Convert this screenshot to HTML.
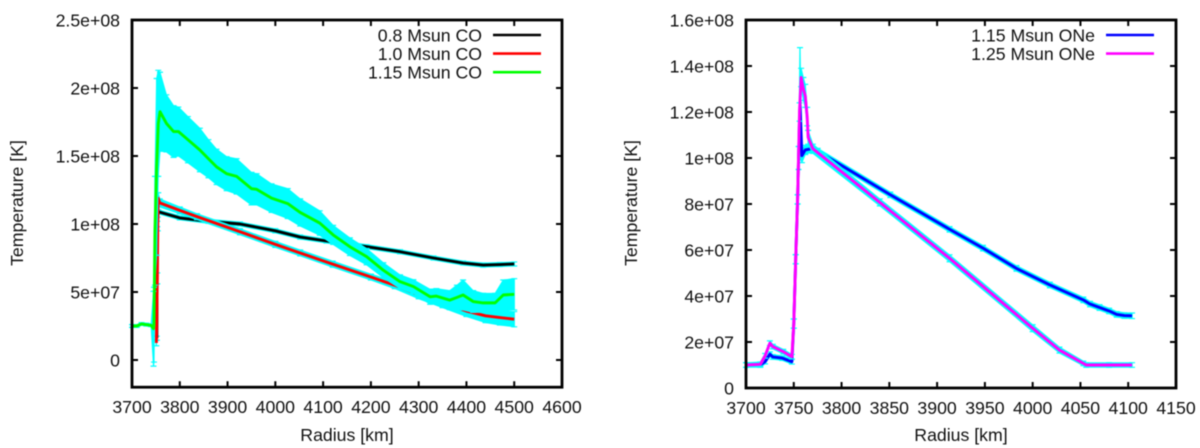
<!DOCTYPE html>
<html lang="en">
<head>
<meta charset="utf-8">
<title>Temperature vs Radius</title>
<style>
html,body{margin:0;padding:0;background:#fff;width:1200px;height:448px;overflow:hidden}
svg{display:block;filter:blur(0.55px)}
text{font-family:"Liberation Sans",sans-serif;font-size:17.7px;fill:#111}
</style>
</head>
<body>
<svg id="figure" width="1200" height="448" viewBox="0 0 1200 448" xmlns="http://www.w3.org/2000/svg">
  <g id="left-chart"></g>
  <g id="right-chart"></g>
</svg>
<script>
const leftXTicks = [3700,3800,3900,4000,4100,4200,4300,4400,4500,4600];
const leftYTicks = [0,5e7,1e8,1.5e8,2e8,2.5e8];
const leftYTickLabels = ['0','5e+07','1e+08','1.5e+08','2e+08','2.5e+08'];
const rightXTicks = [3700,3750,3800,3850,3900,3950,4000,4050,4100,4150];
const rightYTicks = [0,2e7,4e7,6e7,8e7,1e8,1.2e8,1.4e8,1.6e8];
const rightYTickLabels = ['0','2e+07','4e+07','6e+07','8e+07','1e+08','1.2e+08','1.4e+08','1.6e+08'];

const co08Radius = [3752,3753,3755,3800,3860,3926,4000,4052,4107,4191,4261,4331,4393,4435,4470,4500];
const co08Temp = [1.6e7,1.0e8,1.09e8,1.045e8,1.02e8,1.0e8,9.5e7,9.04e7,8.75e7,8.33e7,7.96e7,7.5e7,7.13e7,6.98e7,7.02e7,7.06e7];
const co08Err = [1.5e6,2e6,1.5e6,1.5e6,1.5e6,1.5e6,1.5e6,1.5e6,1.5e6,1.5e6,1.5e6,1.5e6,1.5e6,1.5e6,1.5e6,1.5e6];

const co10Radius = [3751,3753,3754,3755,3758,3800,3836,3926,4000,4052,4120,4200,4250,4300,4350,4400,4440,4470,4500];
const co10Temp = [1.25e7,6e7,1.0e8,1.19e8,1.155e8,1.10e8,1.054e8,9.43e7,8.5e7,7.87e7,7.05e7,6.1e7,5.5e7,4.8e7,4.2e7,3.6e7,3.25e7,3.12e7,3.0e7];
const co10Err = [2e6,4e6,5e6,4e6,3e6,2.5e6,2.2e6,2.2e6,2.2e6,2.2e6,2.2e6,2.2e6,2.5e6,3e6,3.5e6,4e6,5e6,5.5e6,5.6e6];

const co115Radius = [3700,3710,3720,3730,3740,3745,3746,3748,3751.5,3755,3758.6,3772,3787,3797,3817,3842,3860,3877,3898,3919,3950,3961,3992,4026,4052,4093,4121,4156,4191,4226,4261,4289,4324,4337,4365,4380,4393,4414,4435,4460,4477,4500];
const co115Temp = [2.5e7,2.5e7,2.65e7,2.6e7,2.55e7,2.3e7,2.6e7,9.5e7,1.42e8,1.74e8,1.826e8,1.74e8,1.68e8,1.68e8,1.62e8,1.544e8,1.48e8,1.42e8,1.37e8,1.35e8,1.26e8,1.255e8,1.19e8,1.15e8,1.085e8,1.007e8,9.2e7,8.33e7,7.6e7,6.6e7,5.76e7,5.4e7,4.65e7,4.7e7,4.4e7,4.6e7,4.78e7,4.3e7,4.2e7,4.2e7,4.78e7,4.83e7];
const co115Err = [1e6,1e6,1e6,1e6,1e6,2.75e7,2.75e7,4e7,6.5e7,3.9e7,2.9e7,2.1e7,1.9e7,1.8e7,1.7e7,1.6e7,1.4e7,1.3e7,1.25e7,1.3e7,1.2e7,1.15e7,1.05e7,1.1e7,1e7,9e6,7e6,6.5e6,6e6,5.5e6,5e6,5e6,5.5e6,5.5e6,7e6,9e6,1.1e7,8e6,7e6,7e6,1.1e7,1.15e7];

const one115Radius = [3700,3715,3720,3725,3728,3738,3748,3750,3752,3754,3755,3756.5,3758.5,3762,3768,3775,3851,3913,3948,3983,4018,4053,4060,4070,4080,4088,4096,4104];
const one115Temp = [1e7,1e7,1.15e7,1.47e7,1.35e7,1.3e7,1.14e7,2.8e7,5.6e7,8.2e7,1e8,1.24e8,1.01e8,1.035e8,1.04e8,1.03e8,8.4e7,6.9e7,6.08e7,5.2e7,4.48e7,3.83e7,3.65e7,3.5e7,3.35e7,3.2e7,3.15e7,3.14e7];
const one115Err = [1e6,1e6,1e6,1e6,1e6,1e6,1e6,2e6,2e6,2e6,5e6,2.4e7,3e6,2e6,1.5e6,1.2e6,1.2e6,1.2e6,1.2e6,1.2e6,1.2e6,1.2e6,1.2e6,1.2e6,1.2e6,1.2e6,1.2e6,1.2e6];

const one125Radius = [3700,3715,3720,3725,3728,3739,3748,3750,3752,3754,3756,3757.7,3760,3762,3764,3765,3770,3840,3913,4000,4028,4053,4056,4080,4104];
const one125Temp = [1e7,1.03e7,1.4e7,1.95e7,1.8e7,1.58e7,1.36e7,2.8e7,5.6e7,8.2e7,1.2e8,1.35e8,1.3e8,1.27e8,1.18e8,1.09e8,1.04e8,8.07e7,5.64e7,2.6e7,1.65e7,1.07e7,1e7,1e7,1e7];
const one125Err = [1e6,1e6,1e6,1e6,1e6,1e6,1e6,2e6,2e6,2e6,4e6,4e6,5e6,5e6,4e6,3e6,2e6,1.5e6,1.5e6,1.5e6,1.3e6,1e6,1e6,1e6,1e6];

const SVGNS = 'http://www.w3.org/2000/svg';
function mk(parent, tag, attrs, txt) {
  const n = document.createElementNS(SVGNS, tag);
  for (const k in attrs) n.setAttribute(k, attrs[k]);
  if (txt !== undefined) n.textContent = txt;
  parent.appendChild(n);
  return n;
}

function drawSeries(g, sx, sy, s) {
  const band = mk(g, 'polygon', {
    points: s.r.map((r,i)=>sx(r)+','+sy(s.t[i]+s.e[i])).concat(
            s.r.map((r,i)=>sx(r)+','+sy(s.t[i]-s.e[i])).reverse()).join(' '),
    fill:'#00ffff', stroke:'#00ffff', 'stroke-width':1, 'stroke-linejoin':'round'
  });
  
  
  s.r.forEach((r,i)=>{
    const x = sx(r), hi = sy(s.t[i]+s.e[i]), lo = sy(s.t[i]-s.e[i]);
    const bar = mk(g, 'path', {
      d:'M'+x+' '+hi+'V'+lo+'M'+(x-3)+' '+hi+'H'+(x+3)+'M'+(x-3)+' '+lo+'H'+(x+3),
      stroke:'#00ffff', 'stroke-width':1.2, fill:'none'
    });
    
    
  });
  const line = mk(g, 'polyline', {
    points: s.r.map((r,i)=>sx(r)+','+sy(s.t[i])).join(' '),
    fill:'none', stroke:s.color, 'stroke-width':2.9, 'stroke-linejoin':'round'
  });
  
  
}

function drawChart(g, c) {
  const sx = v => c.left + (v - c.xMin) / (c.xMax - c.xMin) * (c.right - c.left);
  const sy = v => c.bottom - (v - c.yMin) / (c.yMax - c.yMin) * (c.bottom - c.top);

  c.series.forEach(s => drawSeries(g, sx, sy, s));

  c.xTicks.forEach(v => {
    const x = sx(v);
    const t = mk(g, 'path', {d:'M'+x+' '+c.bottom+'v-6M'+x+' '+c.top+'v6', stroke:'#000', 'stroke-width':2, fill:'none'});
    
    
    const l = mk(g, 'text', {x:x, y:c.bottom+26, 'text-anchor':'middle'}, String(v));
    
    
  });
  c.yTicks.forEach((v,i) => {
    const y = sy(v);
    const t = mk(g, 'path', {d:'M'+c.left+' '+y+'h6M'+c.right+' '+y+'h-6', stroke:'#000', 'stroke-width':2, fill:'none'});
    
    
    const l = mk(g, 'text', {x:c.left-12, y:y+6.3, 'text-anchor':'end'}, c.yLabels[i]);
    
    
  });

  const frame = mk(g, 'rect', {x:c.left, y:c.top, width:c.right-c.left, height:c.bottom-c.top, fill:'none', stroke:'#000', 'stroke-width':2.8});
  
  

  const xt = mk(g, 'text', {x:(c.left+c.right)/2, y:441, 'text-anchor':'middle'}, 'Radius [km]');
  
  
  const yt = mk(g, 'text', {x:0, y:0, 'text-anchor':'middle', transform:'translate('+(c.left-109)+',203) rotate(-90)'}, 'Temperature [K]');
  
  

  c.series.forEach((s,i) => {
    const y = 35 + i * 18.6;
    const lab = mk(g, 'text', {x:c.legendX, y:y+6.3, 'text-anchor':'end'}, s.label);
    
    
    const sw = mk(g, 'line', {x1:c.legendX+11, x2:c.legendX+59, y1:y, y2:y, stroke:s.color, 'stroke-width':2.6});
    
    
  });
}

drawChart(document.getElementById('left-chart'), {
  left:132, right:562, top:20, bottom:387.2,
  xMin:3700, xMax:4600, yMin:-2e7, yMax:2.5e8,
  xTicks:leftXTicks, yTicks:leftYTicks, yLabels:leftYTickLabels, legendX:482,
  series:[
    {id:'co-0-8', label:'0.8 Msun CO', color:'#000000', r:co08Radius, t:co08Temp, e:co08Err},
    {id:'co-1-0', label:'1.0 Msun CO', color:'#ff0000', r:co10Radius, t:co10Temp, e:co10Err},
    {id:'co-1-15', label:'1.15 Msun CO', color:'#00ff00', r:co115Radius, t:co115Temp, e:co115Err}
  ]
});
drawChart(document.getElementById('right-chart'), {
  left:746, right:1176, top:20, bottom:388,
  xMin:3700, xMax:4150, yMin:0, yMax:1.6e8,
  xTicks:rightXTicks, yTicks:rightYTicks, yLabels:rightYTickLabels, legendX:1095,
  series:[
    {id:'one-1-15', label:'1.15 Msun ONe', color:'#0000ff', r:one115Radius, t:one115Temp, e:one115Err},
    {id:'one-1-25', label:'1.25 Msun ONe', color:'#ff00ff', r:one125Radius, t:one125Temp, e:one125Err}
  ]
});
</script>
</body>
</html>
